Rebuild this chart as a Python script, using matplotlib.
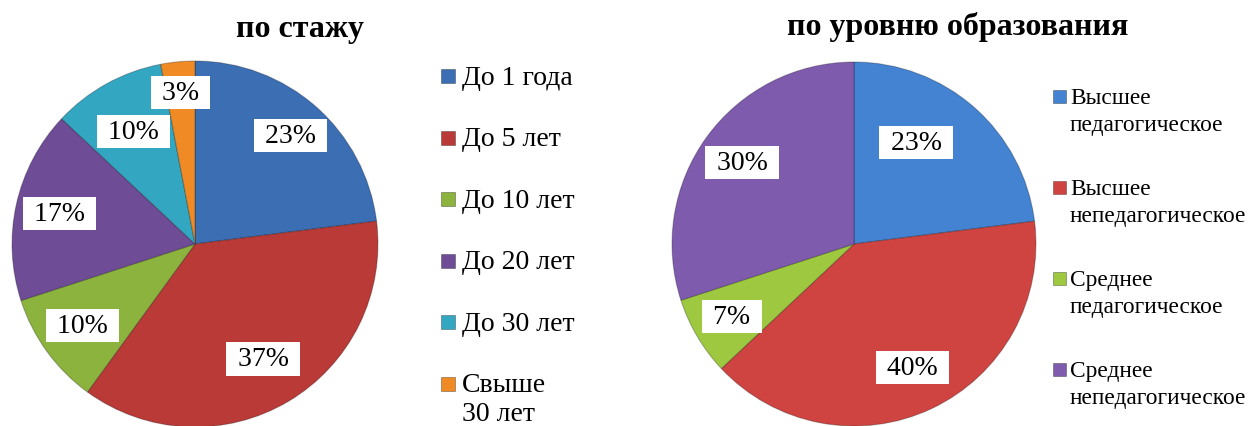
import matplotlib
matplotlib.use('Agg')
import matplotlib.pyplot as plt
from matplotlib.patches import Rectangle
import numpy as np

plt.rcParams['font.family'] = ['Liberation Serif', 'DejaVu Serif']

# данные: стаж
exp_labels = ['До 1 года', 'До 5 лет', 'До 10 лет', 'До 20 лет', 'До 30 лет', 'Свыше\n30 лет']
exp_values = [23, 37, 10, 17, 10, 3]
exp_colors = ['#3c6eb4', '#b93a37', '#8db33f', '#6e4c96', '#33a6c2', '#f08a24']

# данные: образование
edu_labels = ['Высшее\nпедагогическое', 'Высшее\nнепедагогическое',
              'Среднее\nпедагогическое', 'Среднее\nнепедагогическое']
edu_values = [23, 40, 7, 30]
edu_colors = ['#4383d1', '#cf4441', '#9dc840', '#7f5bae']

# расположение подписей (доля радиуса, сдвиг угла в градусах)
exp_lab_r = [0.79, 0.73, 0.76, 0.76, 0.70, 0.83]
exp_lab_da = [0, 0, 0, 0, 0, 0]
edu_lab_r = [0.655, 0.75, 0.78, 0.76]
edu_lab_da = [10, 0, 0, 0]

W, H = 1252, 427
fig = plt.figure(figsize=(W / 100, H / 100), dpi=100)
fig.patch.set_facecolor('white')


def px_axes(x0, y0, x1, y1):
    # прямоугольник в пикселях (y сверху) -> оси в долях фигуры
    return fig.add_axes([x0 / W, (H - y1) / H, (x1 - x0) / W, (y1 - y0) / H])


def draw_pie(ax, values, colors, lab_r, lab_da, fsize):
    wedges, _, autotexts = ax.pie(values, colors=colors, startangle=90, counterclock=False,
                                  radius=1.0, autopct=lambda p: ' %.0f%% ' % p,
                                  wedgeprops=dict(edgecolor=(0, 0, 0, 0.25), linewidth=0.8))
    for w, t, r, da in zip(wedges, autotexts, lab_r, lab_da):
        ang = np.deg2rad((w.theta1 + w.theta2) / 2 + da)
        t.set_position((r * np.cos(ang), r * np.sin(ang)))
        t.set_fontsize(fsize)
        t.set_color('black')
        t.set_bbox(dict(boxstyle='square,pad=0.15', fc='white', ec='none'))
    ax.set_xlim(-1, 1)
    ax.set_ylim(-1, 1)
    ax.set_aspect('equal')
    ax.axis('off')
    return wedges


def draw_legend(labels, colors, x_marker, x_text, y_first, step, msize, fsize, linesp):
    fpx = fsize * 100 / 72
    for i, (lab, col) in enumerate(zip(labels, colors)):
        yc = y_first + i * step
        fig.patches.append(Rectangle((x_marker / W, (H - yc - msize / 2) / H),
                                     msize / W, msize / H, transform=fig.transFigure,
                                     facecolor=col, edgecolor=(0, 0, 0, 0.35), linewidth=0.6))
        fig.text(x_text / W, (H - yc + 0.40 * fpx) / H, lab, fontsize=fsize, va='top',
                 ha='left', linespacing=linesp)


ax1 = px_axes(12, 62, 378, 428)
draw_pie(ax1, exp_values, exp_colors, exp_lab_r, exp_lab_da, 20)
fig.text(300 / W, (H - 29) / H, 'по стажу', fontsize=23, fontweight='bold',
         ha='center', va='center')
draw_legend(exp_labels, exp_colors, 441, 462, 77, 61.5, 14, 20, 1.18)

ax2 = px_axes(672, 63, 1036, 427)
draw_pie(ax2, edu_values, edu_colors, edu_lab_r, edu_lab_da, 20)
fig.text(958 / W, (H - 27) / H, 'по уровню образования', fontsize=23, fontweight='bold',
         ha='center', va='center')
draw_legend(edu_labels, edu_colors, 1053, 1070, 97, 91, 13, 16.8, 1.4)

fig.savefig('out.png', dpi=100, facecolor='white')
